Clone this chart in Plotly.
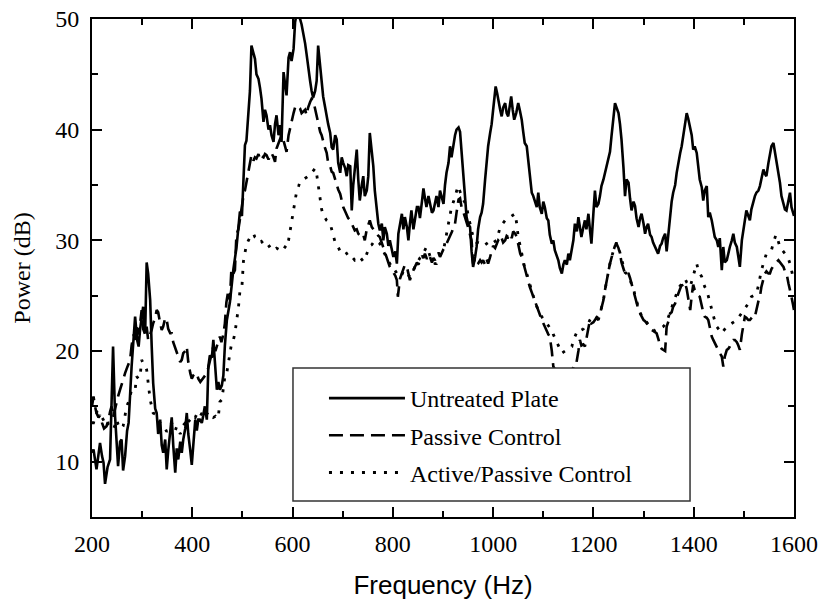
import plotly.graph_objects as go

# (frequency Hz, power dB)
untreated = [
(200,10.8),(203,11.1),(209,9.3),(216,11.7),(220,10.5),(223,9.9),(226,8.0),(231,9.5),(236,10.2),(239,16.5),
(242,20.4),(246,14.1),(249,11.5),(252,9.6),(256,11.8),(259,12.0),(262,9.2),(266,10.5),(270,12.8),(273,13.5),
(279,18.6),(283,21.5),(286,23.1),(290,21.0),(293,20.4),(296,22.0),(299,23.1),(302,24.0),(306,21.6),(309,28.0),
(312,27.0),(316,24.6),(319,20.5),(322,17.1),(326,14.8),(329,14.4),(332,12.5),(336,13.8),(339,11.5),(342,10.8),
(346,12.0),(349,9.3),(352,11.0),(356,12.5),(359,14.0),(362,11.5),(366,9.0),(369,11.2),(372,10.2),(376,11.8),
(379,10.8),(382,12.0),(386,13.0),(389,14.4),(392,12.5),(396,11.0),(399,9.7),(402,11.5),(406,13.8),(409,12.8),
(412,13.8),(415,13.8),(419,13.5),(422,14.2),(425,15.0),(429,13.8),(432,18.6),(435,19.6),(439,19.4),(442,21.0),
(446,18.0),(449,16.5),(452,17.2),(455,16.5),(459,16.9),(462,17.8),(465,20.5),(469,22.8),(475,24.4),(482,27.4),
(488,29.3),(495,32.6),(499,32.2),(502,35.3),(505,38.6),(508,39.0),(512,41.3),(515,43.5),(518,47.6),(521,47.0),
(525,46.4),(528,45.0),(532,44.6),(535,43.8),(538,42.8),(542,40.7),(545,41.8),(548,41.3),(552,40.0),(555,40.4),
(558,39.5),(562,38.9),(565,40.5),(568,41.3),(572,39.5),(575,40.4),(578,38.9),(582,45.2),(585,44.0),(588,43.1),
(592,46.5),(595,47.0),(598,46.2),(602,47.3),(605,49.7),(608,50.5),(612,50.2),(615,50.0),(618,49.5),(621,48.9),
(625,47.8),(628,46.8),(631,45.5),(635,44.4),(638,43.5),(641,42.9),(645,43.5),(648,44.4),(651,47.6),(655,45.5),
(658,44.1),(661,43.0),(665,42.0),(668,41.0),(671,40.5),(675,39.7),(678,38.4),(681,38.2),(685,39.5),(688,39.1),
(691,37.0),(695,36.1),(698,37.5),(701,37.0),(705,36.5),(708,35.8),(711,36.8),(715,36.7),(718,32.7),(721,35.0),
(724,36.5),(728,38.2),(731,35.5),(734,33.6),(738,35.0),(741,35.8),(744,34.0),(748,34.5),(751,35.8),(754,39.7),
(758,38.0),(761,36.7),(764,34.5),(768,32.7),(771,31.5),(774,30.9),(778,31.5),(781,30.0),(784,31.2),(788,30.6),
(791,29.5),(794,30.0),(798,29.2),(801,28.5),(805,29.0),(808,27.9),(811,30.6),(814,31.5),(818,32.4),(821,31.0),
(824,32.1),(828,31.2),(831,30.0),(834,31.5),(837,32.7),(841,31.0),(844,31.8),(848,33.0),(851,33.0),(854,32.0),
(858,33.5),(861,34.7),(864,33.8),(867,33.0),(871,34.0),(874,33.3),(878,32.5),(881,32.7),(884,33.5),(887,34.0),
(891,33.0),(894,34.5),(897,34.0),(901,33.3),(904,35.0),(907,36.1),(911,37.0),(914,38.5),(917,37.5),(921,38.8),
(924,39.5),(927,40.0),(931,40.2),(934,39.8),(937,38.0),(940,35.8),(944,33.5),(947,32.1),(950,31.5),(954,31.2),
(957,29.0),(960,27.6),(964,28.5),(967,29.4),(970,31.0),(974,32.1),(977,32.5),(980,33.3),(984,35.5),(987,37.3),
(990,38.5),(994,39.7),(997,40.5),(1000,41.8),(1003,43.0),(1005,43.9),(1008,43.3),(1010,42.7),(1014,41.8),(1017,41.2),
(1020,42.0),(1024,42.4),(1027,41.5),(1030,41.2),(1034,42.3),(1036,43.0),(1039,41.8),(1042,40.9),(1046,41.5),(1050,42.4),
(1053,41.8),(1057,40.9),(1060,39.8),(1063,38.8),(1067,38.5),(1070,37.3),(1073,35.5),(1077,34.3),(1080,34.0),(1083,33.6),
(1087,33.0),(1090,34.3),(1093,33.0),(1097,32.4),(1100,33.5),(1103,33.0),(1107,32.0),(1110,31.8),(1113,30.5),(1117,29.7),
(1120,30.0),(1123,29.1),(1127,28.5),(1130,28.2),(1133,27.5),(1137,27.0),(1140,27.8),(1143,28.2),(1147,27.8),(1150,28.8),
(1153,28.2),(1157,29.4),(1160,30.0),(1163,31.5),(1167,30.8),(1170,32.1),(1173,31.0),(1176,30.3),(1180,31.2),(1183,31.8),
(1186,31.0),(1190,32.4),(1193,31.0),(1196,29.7),(1200,32.5),(1203,34.5),(1206,33.0),(1210,33.3),(1213,34.0),(1216,34.9),
(1220,35.5),(1223,36.1),(1226,36.5),(1230,37.3),(1233,38.0),(1236,39.4),(1240,41.0),(1243,42.4),(1246,42.0),(1250,41.5),
(1253,40.5),(1256,39.1),(1260,36.5),(1263,34.0),(1266,35.5),(1270,35.2),(1273,33.8),(1276,32.7),(1280,33.5),(1283,33.1),
(1286,32.0),(1290,31.2),(1293,32.0),(1296,32.4),(1300,31.5),(1303,30.6),(1306,31.2),(1309,31.5),(1313,30.5),(1316,30.3),
(1319,29.8),(1323,29.4),(1326,29.0),(1329,28.8),(1333,29.5),(1336,29.7),(1339,30.2),(1343,30.6),(1346,29.0),(1349,30.5),
(1353,32.4),(1356,33.5),(1359,34.3),(1363,35.0),(1366,36.1),(1369,37.0),(1373,37.9),(1376,38.5),(1379,39.4),(1383,40.5),
(1386,41.5),(1389,41.0),(1392,40.3),(1396,39.5),(1399,38.2),(1402,38.5),(1406,37.9),(1409,36.5),(1412,35.5),(1416,34.8),
(1419,33.6),(1422,34.5),(1426,34.9),(1429,32.1),(1432,32.5),(1436,31.8),(1439,31.0),(1442,30.3),(1446,30.0),(1449,29.4),
(1452,30.2),(1456,27.3),(1459,29.4),(1462,28.0),(1466,28.2),(1469,29.0),(1472,29.4),(1476,30.0),(1479,30.6),(1482,29.8),
(1486,29.4),(1489,28.5),(1492,27.6),(1496,30.0),(1499,30.9),(1502,31.5),(1505,32.7),(1509,32.2),(1512,31.8),(1515,32.8),
(1519,33.6),(1522,34.0),(1525,34.3),(1529,34.5),(1532,34.9),(1535,35.5),(1539,36.4),(1542,36.0),(1545,35.8),(1549,37.0),
(1552,37.9),(1555,38.5),(1559,38.8),(1562,38.0),(1565,37.0),(1569,36.0),(1572,35.2),(1575,34.0),(1579,33.4),(1582,32.8),
(1585,32.7),(1589,33.5),(1592,34.3),(1595,33.0),(1598,32.4),(1600,32.2),
]

passive = [
(200,15.0),(203,15.9),(206,15.0),(209,14.4),(213,14.0),(216,14.2),(220,13.5),(224,13.0),(229,13.2),(233,13.8),
(236,14.5),(239,15.0),(242,14.0),(246,14.8),(249,15.5),(252,15.9),(256,16.5),(259,17.0),(262,17.5),(266,18.0),
(270,18.5),(276,19.2),(279,20.5),(283,21.5),(286,21.0),(289,22.2),(292,21.5),(296,22.5),(299,23.7),(302,22.0),
(306,21.5),(309,22.2),(312,21.0),(316,21.5),(319,21.9),(322,22.5),(326,23.0),(329,23.7),(332,23.5),(336,22.5),
(339,21.9),(342,22.2),(346,23.0),(349,22.8),(352,22.0),(356,21.6),(359,21.6),(362,20.8),(366,20.2),(369,19.8),
(372,19.5),(376,19.0),(379,19.2),(382,19.8),(386,20.0),(389,20.4),(392,19.0),(396,18.0),(399,17.5),(402,17.8),
(406,18.0),(409,18.0),(412,17.5),(416,17.2),(419,17.4),(422,17.5),(426,17.8),(429,18.0),(432,18.5),(436,19.2),
(439,19.8),(442,20.4),(446,20.0),(449,20.5),(452,20.8),(455,21.3),(458,20.8),(462,21.5),(465,22.5),(468,24.4),
(472,25.5),(475,24.6),(478,27.4),(482,27.0),(485,27.3),(488,30.5),(492,31.0),(495,32.0),(498,32.6),(502,34.0),
(505,34.5),(508,35.3),(512,36.5),(515,37.2),(518,37.7),(522,37.2),(525,37.5),(528,37.4),(532,37.8),(535,37.3),
(538,37.6),(542,37.5),(545,37.8),(548,37.7),(552,37.3),(555,37.6),(558,37.9),(562,37.5),(565,37.1),(568,38.3),
(572,38.8),(575,39.0),(578,39.5),(582,39.0),(585,38.5),(588,38.0),(592,39.5),(595,40.2),(598,40.7),(602,41.5),
(605,42.0),(608,42.2),(612,42.0),(615,41.9),(618,41.5),(621,41.6),(625,41.8),(628,41.3),(631,42.0),(635,42.5),
(638,42.8),(641,42.7),(645,41.9),(648,41.2),(651,40.5),(655,39.8),(658,39.5),(661,38.9),(665,38.3),(668,37.9),
(671,37.0),(675,36.7),(678,36.2),(681,36.1),(685,35.5),(688,35.0),(691,34.6),(695,34.2),(698,33.5),(701,33.0),
(705,32.6),(708,32.2),(711,32.0),(715,31.8),(718,31.5),(721,31.2),(724,30.9),(728,31.0),(731,30.6),(735,30.4),
(738,30.3),(741,30.5),(744,30.0),(748,31.0),(751,31.5),(754,31.8),(758,31.2),(761,31.0),(764,30.8),(768,30.6),
(771,30.4),(774,30.3),(778,29.8),(781,29.4),(784,29.0),(788,28.5),(791,28.0),(794,27.6),(798,27.3),(801,27.0),
(805,26.8),(808,26.4),(810,24.9),(814,26.5),(818,27.0),(821,27.3),(824,27.8),(828,27.6),(831,27.0),(834,26.4),
(838,27.0),(841,27.4),(844,27.6),(848,28.0),(851,27.8),(854,28.2),(858,28.6),(861,28.4),(864,28.8),(868,28.3),
(871,28.7),(874,28.5),(878,28.0),(881,28.4),(884,28.2),(888,28.6),(891,28.9),(894,28.5),(898,29.0),(901,29.2),
(904,29.4),(908,29.8),(911,30.0),(914,30.3),(918,30.8),(921,31.2),(924,31.5),(927,32.5),(931,33.7),(934,33.8),
(937,33.0),(941,32.5),(944,32.1),(947,31.6),(950,31.2),(954,30.5),(957,30.0),(960,27.9),(964,28.3),(967,27.8),
(970,27.9),(974,28.2),(977,28.0),(980,28.2),(984,27.8),(987,28.3),(990,27.9),(994,28.5),(997,29.0),(1000,29.5),
(1004,29.3),(1007,29.6),(1010,30.0),(1014,29.8),(1017,30.2),(1020,29.8),(1024,30.0),(1027,30.4),(1030,30.3),(1034,30.6),
(1037,30.2),(1040,30.8),(1044,30.6),(1047,30.3),(1050,29.5),(1054,28.8),(1057,28.5),(1060,28.0),(1063,27.3),(1067,26.8),
(1070,26.2),(1073,25.8),(1077,25.3),(1080,24.9),(1083,24.5),(1087,24.0),(1090,23.6),(1093,23.2),(1097,22.8),(1100,22.5),
(1104,22.0),(1107,21.8),(1110,21.5),(1113,21.3),(1117,20.0),(1120,18.6),(1124,18.3),(1127,18.0),(1130,17.8),(1135,17.6),
(1140,17.5),(1145,17.7),(1150,17.9),(1155,18.2),(1160,18.5),(1163,18.9),(1166,18.9),(1170,20.0),(1173,21.0),(1176,20.5),
(1180,20.6),(1183,20.4),(1186,21.2),(1190,22.0),(1193,22.8),(1196,22.5),(1200,22.6),(1203,22.8),(1206,23.0),(1210,22.8),
(1213,23.4),(1216,23.8),(1220,24.6),(1223,25.5),(1226,26.4),(1230,27.2),(1233,27.9),(1236,28.5),(1240,29.1),(1243,29.5),
(1246,29.7),(1250,29.3),(1253,28.8),(1256,28.0),(1260,27.3),(1263,27.0),(1266,27.2),(1270,27.0),(1273,26.6),(1276,26.1),
(1280,25.5),(1283,24.9),(1286,24.3),(1290,23.7),(1293,23.4),(1296,23.1),(1300,22.8),(1303,22.7),(1306,22.5),(1310,22.2),
(1313,22.0),(1316,21.9),(1320,21.8),(1323,21.7),(1326,21.6),(1330,21.0),(1333,20.4),(1336,20.2),(1339,20.1),(1343,20.0),
(1346,22.2),(1349,22.6),(1353,23.4),(1356,23.5),(1359,24.0),(1363,24.3),(1366,24.8),(1369,25.2),(1373,25.8),(1376,26.0),
(1379,25.8),(1383,26.1),(1386,25.6),(1389,24.9),(1393,23.7),(1396,25.0),(1399,26.0),(1402,25.5),(1406,25.2),(1409,25.0),
(1412,24.9),(1416,24.0),(1419,23.5),(1422,23.1),(1426,23.0),(1429,22.8),(1432,22.0),(1436,21.3),(1439,21.0),(1442,20.7),
(1446,20.4),(1449,20.1),(1452,19.8),(1456,19.5),(1459,18.6),(1462,19.5),(1466,20.1),(1469,20.2),(1472,20.4),(1476,20.8),
(1479,21.0),(1482,21.0),(1486,20.8),(1489,20.5),(1492,20.1),(1496,21.5),(1499,22.5),(1502,23.1),(1505,23.0),(1509,22.8),
(1512,22.8),(1515,23.0),(1519,23.2),(1522,23.1),(1525,23.8),(1529,24.5),(1532,24.9),(1535,25.8),(1539,26.5),(1542,27.0),
(1545,27.2),(1549,27.0),(1552,27.0),(1555,27.4),(1559,27.7),(1562,27.9),(1565,28.0),(1569,28.2),(1572,28.0),(1575,27.8),
(1579,27.6),(1582,27.2),(1586,26.8),(1589,26.1),(1592,25.6),(1595,24.9),(1598,24.2),(1600,23.7),
]

active_passive = [
(200,13.5),(203,13.5),(206,14.0),(210,14.5),(213,14.4),(216,14.4),(220,14.0),(223,13.8),(226,13.5),(230,13.2),
(233,13.5),(236,13.5),(240,13.2),(243,13.0),(246,13.3),(249,13.8),(252,13.4),(256,13.0),(259,13.0),(262,13.2),
(266,14.2),(269,15.0),(273,15.4),(276,15.9),(279,16.5),(283,16.6),(286,16.5),(289,17.7),(293,17.5),(296,17.7),
(299,19.2),(302,18.9),(306,18.7),(309,18.3),(312,17.1),(316,15.6),(319,15.0),(322,14.4),(326,14.3),(329,14.0),
(332,13.8),(336,13.5),(339,13.3),(342,13.2),(346,13.0),(349,12.7),(352,12.9),(356,13.2),(359,13.5),(362,13.0),
(366,12.8),(369,13.2),(372,13.0),(376,12.5),(379,12.8),(382,13.3),(386,13.5),(389,13.2),(392,13.6),(396,13.8),
(399,14.0),(402,14.2),(406,14.0),(409,14.3),(412,14.0),(416,14.1),(419,14.4),(422,14.2),(426,14.5),(429,14.3),
(432,14.5),(436,14.4),(439,14.2),(442,14.0),(446,14.1),(449,13.9),(452,14.1),(455,15.4),(459,15.6),(462,16.5),
(465,17.7),(468,17.8),(472,19.0),(475,19.5),(478,20.6),(482,21.0),(485,21.6),(488,22.6),(492,23.9),(495,25.4),
(499,25.8),(502,28.1),(505,28.8),(508,29.6),(512,30.0),(515,30.3),(518,30.5),(522,30.6),(525,30.3),(528,30.2),
(532,30.0),(535,29.8),(538,29.9),(542,29.6),(545,29.5),(548,29.3),(552,29.4),(555,29.5),(558,29.6),(562,29.4),
(565,29.2),(568,29.3),(572,29.2),(575,29.0),(578,29.1),(582,29.2),(585,29.4),(588,29.3),(592,30.0),(595,30.9),
(598,31.8),(602,32.6),(605,33.5),(608,34.4),(612,34.9),(615,35.3),(618,35.4),(621,35.5),(625,35.6),(628,35.7),
(631,35.8),(635,35.9),(638,36.1),(641,36.3),(645,36.5),(648,36.0),(651,35.0),(655,33.5),(658,32.8),(661,32.3),
(665,32.0),(668,31.8),(671,31.7),(675,31.5),(678,31.0),(681,30.4),(685,29.8),(688,29.5),(691,29.4),(695,29.0),
(698,29.1),(701,29.0),(705,29.0),(708,28.8),(711,28.9),(715,28.7),(718,28.5),(721,28.4),(724,28.2),(728,28.3),
(731,28.5),(734,28.5),(738,28.2),(741,28.1),(744,28.3),(748,28.8),(751,29.2),(754,29.5),(758,29.6),(761,29.8),
(764,30.0),(768,29.9),(771,29.8),(774,29.7),(778,29.3),(781,29.0),(784,28.8),(788,28.4),(791,28.1),(794,27.9),
(798,27.6),(801,27.3),(804,27.3),(808,27.0),(811,26.8),(814,26.7),(818,26.9),(821,27.2),(824,27.3),(828,27.0),
(831,26.8),(834,26.7),(838,27.0),(841,27.4),(844,27.6),(847,27.9),(851,28.2),(854,28.4),(857,28.5),(861,28.9),
(864,29.2),(867,29.4),(871,29.0),(874,28.6),(878,28.3),(881,28.0),(884,27.9),(887,27.9),(891,28.3),(894,28.7),
(897,28.9),(901,29.1),(904,29.8),(907,30.6),(911,31.4),(914,32.1),(917,33.0),(921,33.5),(924,34.0),(927,34.5),
(930,34.9),(934,34.4),(937,34.0),(940,33.7),(944,33.4),(947,33.1),(950,32.3),(954,31.5),(957,30.8),(960,30.3),
(964,30.0),(967,29.8),(970,29.8),(974,29.7),(977,29.7),(980,29.8),(984,29.6),(987,29.7),(990,29.8),(994,29.6),
(997,29.7),(1000,29.8),(1004,29.9),(1007,30.0),(1010,30.5),(1014,31.2),(1017,31.4),(1020,31.6),(1024,31.8),(1027,31.9),
(1030,32.0),(1034,32.1),(1037,32.2),(1040,32.3),(1044,32.4),(1047,31.5),(1050,30.3),(1054,29.5),(1057,28.8),(1060,28.0),
(1063,27.5),(1067,27.0),(1070,26.5),(1073,26.0),(1077,25.5),(1080,25.0),(1083,24.5),(1087,24.0),(1090,23.7),(1093,23.4),
(1097,23.1),(1100,22.9),(1104,22.7),(1107,22.5),(1110,22.3),(1113,22.1),(1117,21.9),(1120,21.5),(1124,21.1),(1127,20.7),
(1130,20.4),(1134,20.0),(1137,19.8),(1140,19.9),(1144,20.0),(1147,20.1),(1150,20.2),(1154,20.3),(1157,20.4),(1160,21.0),
(1163,21.4),(1166,21.6),(1170,21.8),(1173,21.7),(1176,21.9),(1180,22.0),(1183,22.2),(1186,22.3),(1190,22.5),(1193,22.8),
(1196,23.0),(1200,22.9),(1203,22.8),(1206,23.0),(1210,23.2),(1213,23.4),(1216,23.9),(1220,24.6),(1223,25.5),(1226,26.4),
(1230,27.2),(1233,27.9),(1236,28.5),(1240,29.1),(1243,29.5),(1246,29.8),(1250,29.4),(1253,28.8),(1256,28.2),(1260,27.5),
(1263,27.1),(1266,27.0),(1270,26.8),(1273,26.4),(1276,26.1),(1280,25.6),(1283,25.0),(1286,24.4),(1290,23.9),(1293,23.5),
(1296,23.2),(1300,23.0),(1303,22.8),(1306,22.6),(1310,22.3),(1313,22.2),(1316,22.0),(1320,21.9),(1323,21.8),(1326,21.8),
(1330,21.9),(1333,22.0),(1336,22.1),(1339,22.2),(1343,22.4),(1346,22.6),(1349,23.0),(1353,23.5),(1356,24.0),(1359,24.4),
(1363,24.8),(1366,25.2),(1369,25.6),(1373,25.9),(1376,26.0),(1379,26.3),(1383,26.5),(1386,26.2),(1389,26.0),(1393,25.8),
(1396,26.3),(1399,26.8),(1402,27.2),(1406,27.9),(1409,27.3),(1412,27.0),(1416,26.7),(1419,26.2),(1422,25.8),(1426,25.5),
(1429,25.0),(1432,24.3),(1436,23.6),(1439,23.1),(1442,22.7),(1446,22.2),(1449,22.0),(1452,21.8),(1456,21.6),(1459,21.8),
(1462,22.0),(1466,22.2),(1469,22.3),(1472,22.4),(1476,22.5),(1479,22.6),(1482,22.7),(1486,22.8),(1489,23.0),(1492,23.2),
(1495,23.4),(1499,23.6),(1502,23.8),(1505,24.0),(1509,24.3),(1512,24.6),(1515,24.9),(1519,25.0),(1522,25.1),(1525,25.2),
(1529,25.9),(1532,26.7),(1535,27.3),(1539,27.9),(1542,28.4),(1545,28.8),(1549,28.9),(1552,29.0),(1555,29.1),(1559,29.8),
(1562,30.3),(1564,30.5),(1568,30.0),(1572,29.4),(1575,29.2),(1579,29.0),(1582,28.8),(1586,28.5),(1589,28.3),(1592,27.9),
(1595,27.4),(1598,26.7),(1600,26.3),
]

series_names = ["Untreated Plate", "Passive Control", "Active/Passive Control"]
x_tick_values = [200, 400, 600, 800, 1000, 1200, 1400, 1600]
y_tick_values = [10, 20, 30, 40, 50]

SERIF = "Liberation Serif, Times New Roman, serif"
SANS = "Liberation Sans, Arial, sans-serif"

fig = go.Figure()
styles = [
    dict(color="black", width=2.6, dash="solid"),
    dict(color="black", width=2.6, dash="14px,7px"),
    dict(color="black", width=2.8, dash="3px,8px"),
]
for i, (name, data) in enumerate(zip(series_names, [untreated, passive, active_passive])):
    fig.add_trace(go.Scatter(
        x=[p[0] for p in data], y=[p[1] for p in data],
        mode="lines", name=name, line=styles[i], legendgroup=f"g{i}",
    ))

axis_common = dict(
    showline=True, linecolor="black", linewidth=2, mirror="allticks",
    ticks="inside", ticklen=10, tickwidth=1.6, tickcolor="black",
    showgrid=False, zeroline=False, automargin=False,
    tickfont=dict(family=SERIF, size=24, color="black"),
)
fig.update_xaxes(
    range=[200, 1600], tickvals=x_tick_values,
    minor=dict(ticks="inside", ticklen=6, tickwidth=1.6, tickcolor="black", dtick=100, tick0=200),
    title=dict(text="Frequency (Hz)", font=dict(family=SANS, size=26, color="black"), standoff=20),
    ticklabelstandoff=4,
    **axis_common,
)
fig.update_yaxes(
    range=[5, 50], tickvals=y_tick_values,
    minor=dict(ticks="inside", ticklen=6, tickwidth=1.6, tickcolor="black", dtick=5, tick0=5),
    title=dict(text="Power (dB)", font=dict(family=SERIF, size=24, color="black"), standoff=18),
    ticklabelstandoff=6,
    **axis_common,
)

# legend frame (opaque white box with thin dark border)
fig.add_shape(
    type="rect", xref="paper", yref="paper",
    x0=0.2863, x1=0.8519, y0=0.0321, y1=0.2992,
    fillcolor="white", line=dict(color="#333333", width=1.5), layer="above",
)

fig.update_layout(
    width=822, height=606,
    margin=dict(l=92, r=28, t=19, b=89, autoexpand=False),
    paper_bgcolor="white", plot_bgcolor="white",
    showlegend=True,
    legend=dict(
        x=0.2877, y=0.2831, xanchor="left", yanchor="top",
        bgcolor="rgba(0,0,0,0)", borderwidth=0,
        font=dict(family=SERIF, size=24, color="black"),
        tracegroupgap=3, itemwidth=76, indentation=30,
    ),
)
fig.write_html(
    "out.html",
    config={"displayModeBar": False},
    post_script="document.body.style.margin='0px';document.body.style.padding='0px';document.body.style.overflow='hidden';",
)
